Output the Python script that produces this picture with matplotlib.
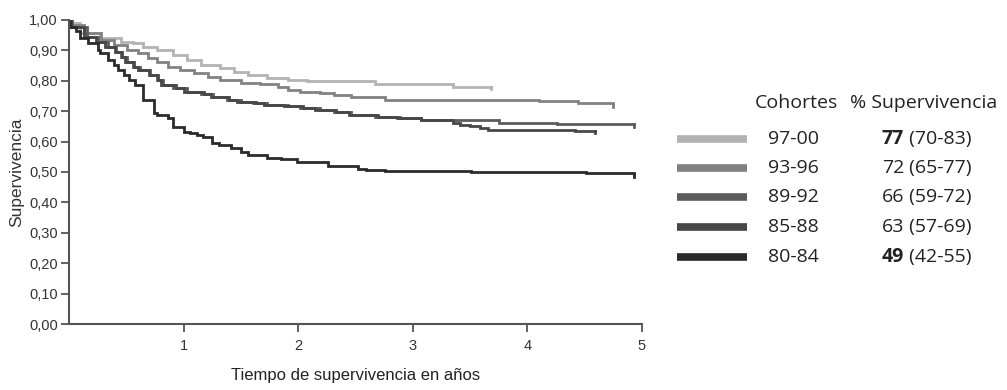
import numpy as np
import matplotlib
matplotlib.use("Agg")
import matplotlib.pyplot as plt
from matplotlib.lines import Line2D

# --- Kaplan-Meier curves (time in years, survival) ---
t_97_00 = [0, 0.01, 0.10, 0.27, 0.45, 0.56, 0.65, 0.77, 0.91, 1.03, 1.15, 1.32,
           1.44, 1.56, 1.73, 1.91, 2.08, 2.67, 3.35, 3.68]
s_97_00 = [1.0, 0.99, 0.957, 0.941, 0.928, 0.924, 0.911, 0.901, 0.885, 0.868, 0.852,
           0.842, 0.829, 0.819, 0.809, 0.803, 0.798, 0.789, 0.780, 0.780]

t_93_96 = [0, 0.01, 0.13, 0.28, 0.39, 0.51, 0.60, 0.69, 0.77, 0.86, 0.97, 1.09,
           1.21, 1.32, 1.50, 1.67, 1.82, 1.91, 2.02, 2.19, 2.31, 2.46, 2.76, 4.10,
           4.44, 4.75]
s_93_96 = [1.0, 0.984, 0.957, 0.934, 0.918, 0.901, 0.891, 0.875, 0.862, 0.845, 0.836,
           0.826, 0.812, 0.803, 0.793, 0.789, 0.780, 0.770, 0.763, 0.760, 0.753, 0.747,
           0.738, 0.734, 0.727, 0.722]

t_89_92 = [0, 0.03, 0.16, 0.25, 0.34, 0.41, 0.45, 0.51, 0.56, 0.62, 0.71, 0.77,
           0.82, 0.91, 1.03, 1.15, 1.26, 1.38, 1.50, 1.61, 1.73, 1.91, 2.02, 2.19,
           2.31, 2.46, 2.67, 2.89, 3.07, 3.75, 4.26, 4.93]
s_89_92 = [1.0, 0.977, 0.944, 0.928, 0.911, 0.895, 0.878, 0.862, 0.845, 0.836, 0.819,
           0.803, 0.786, 0.776, 0.763, 0.757, 0.747, 0.737, 0.730, 0.727, 0.720, 0.717,
           0.711, 0.704, 0.697, 0.688, 0.681, 0.678, 0.671, 0.661, 0.657, 0.657]

t_85_88 = [0, 0.02, 0.13, 0.24, 0.31, 0.40, 0.46, 0.49, 0.57, 0.60, 0.70, 0.78,
           0.80, 0.93, 1.00, 1.18, 1.24, 1.40, 1.47, 1.63, 1.70, 1.88, 2.04, 2.15,
           2.33, 2.44, 2.70, 2.86, 3.07, 3.35, 3.41, 3.50, 3.59, 3.66, 4.42, 4.59]
s_85_88 = [1.0, 0.975, 0.944, 0.928, 0.911, 0.895, 0.878, 0.862, 0.845, 0.836, 0.819,
           0.803, 0.786, 0.776, 0.763, 0.757, 0.747, 0.737, 0.730, 0.727, 0.720, 0.717,
           0.711, 0.704, 0.697, 0.688, 0.681, 0.678, 0.671, 0.661, 0.655, 0.650, 0.645,
           0.638, 0.635, 0.635]

t_80_84 = [0, 0.01, 0.06, 0.10, 0.17, 0.25, 0.27, 0.34, 0.39, 0.43, 0.48, 0.52,
           0.58, 0.65, 0.74, 0.77, 0.86, 0.91, 1.00, 1.06, 1.12, 1.17, 1.25, 1.31,
           1.41, 1.50, 1.56, 1.73, 1.85, 1.99, 2.26, 2.52, 2.59, 2.76, 3.51, 4.51, 4.93]
s_80_84 = [1.0, 0.978, 0.964, 0.941, 0.924, 0.901, 0.891, 0.868, 0.852, 0.836, 0.819,
           0.803, 0.786, 0.737, 0.694, 0.688, 0.678, 0.648, 0.632, 0.628, 0.622, 0.615,
           0.595, 0.589, 0.579, 0.566, 0.556, 0.546, 0.543, 0.533, 0.520, 0.510, 0.507,
           0.503, 0.500, 0.497, 0.493]

cohortes = ["97-00", "93-96", "89-92", "85-88", "80-84"]
superv = ["77", "72", "66", "63", "49"]
ic = ["(70-83)", "(65-77)", "(59-72)", "(57-69)", "(42-55)"]
bold_row = [True, False, False, False, True]

curves = [(t_97_00, s_97_00), (t_93_96, s_93_96), (t_89_92, s_89_92),
          (t_85_88, s_85_88), (t_80_84, s_80_84)]
colors = ["#b3b3b3", "#828282", "#5c5c5c", "#474747", "#2b2b2b"]

yticks = np.arange(0, 1.01, 0.1)
xticks = [1, 2, 3, 4, 5]

AX_FONT = "Liberation Sans"
LEG_FONT = "Open Sans"

fig = plt.figure(figsize=(10.07, 3.90), dpi=100)
ax = fig.add_axes([0.0685, 0.169, 0.569, 0.780])

for (t, s), c in zip(curves, colors):
    ax.step(t, s, where="post", color=c, lw=2.0, solid_joinstyle="miter")
    # censoring tick at end of curve
    ax.plot([t[-1], t[-1]], [s[-1], s[-1] - 0.008], color=c, lw=2.0)

ax.set_xlim(0, 5)
ax.set_ylim(0, 1.0)
ax.set_xticks(xticks)
ax.set_xticklabels([str(v) for v in xticks], fontfamily=AX_FONT, fontsize=10.5)
ax.set_yticks(yticks)
ax.set_yticklabels([f"{v:.2f}".replace(".", ",") for v in yticks],
                   fontfamily=AX_FONT, fontsize=10.5)
for side in ["top", "right"]:
    ax.spines[side].set_visible(False)
for side in ["left", "bottom"]:
    ax.spines[side].set_color("#555555")
    ax.spines[side].set_linewidth(1.5)
ax.tick_params(axis="both", direction="out", length=6, width=1.3,
               color="#555555", labelcolor="#333333", pad=2)
ax.tick_params(axis="x", pad=5)

ax.set_ylabel("Supervivencia", fontfamily=AX_FONT, fontsize=12.5, color="#333333")
ax.yaxis.set_label_coords(-0.078, 0.5)
ax.set_xlabel("Tiempo de supervivencia en años", fontfamily=AX_FONT, fontsize=12,
              color="#222222")
ax.xaxis.set_label_coords(0.5, -0.145)

# --- legend table on the right ---
W, H = 1007.0, 390.0
FS = 14
fig.text(755 / W, 1 - 103 / H, "Cohortes", fontfamily=LEG_FONT, fontsize=FS,
         ha="left", va="center", color="#222222")
fig.text(850 / W, 1 - 103 / H, "% Supervivencia", fontfamily=LEG_FONT, fontsize=FS,
         ha="left", va="center", color="#222222")

row_y = [139, 168, 197, 227, 257]
for i, y in enumerate(row_y):
    yf = 1 - y / H
    fig.add_artist(Line2D([677 / W, 747 / W], [yf, yf], color=colors[i], lw=5.5,
                          solid_capstyle="butt"))
    fig.text(768 / W, yf, cohortes[i], fontfamily=LEG_FONT, fontsize=FS,
             ha="left", va="center", color="#222222")
    num = fig.text(882 / W, yf, superv[i], fontfamily=LEG_FONT, fontsize=FS,
                   fontweight="bold" if bold_row[i] else "normal",
                   ha="left", va="center", color="#222222")
    ax.annotate(" " + ic[i], xy=(1, 0.5), xycoords=num, va="center", ha="left",
                fontfamily=LEG_FONT, fontsize=FS, color="#222222",
                annotation_clip=False)

fig.savefig("out.png", dpi=100)
